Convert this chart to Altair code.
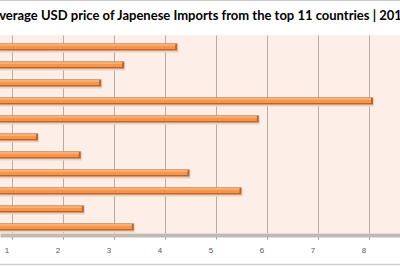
import altair as alt
import pandas as pd

countries = ["China", "United States", "Australia", "Saudi Arabia", "United Arab Emirates",
             "South Korea", "Qatar", "Taiwan", "Thailand", "Indonesia", "Germany"]
prices = [4.17, 3.13, 2.68, 8.01, 5.77, 1.44, 2.28, 4.41, 5.43, 2.34, 3.32]
tick_values = [1, 2, 3, 4, 5, 6, 7, 8]
title_text = "Average USD price of Japenese Imports from the top 11 countries | 2015"

df = pd.DataFrame({"country": countries, "price": prices})

xscale = alt.Scale(domain=[0.657, 8.5], nice=False, zero=False)
yscale = alt.Scale(domain=countries, paddingInner=0, paddingOuter=0)

base = alt.Chart(df)

xaxis = alt.Axis(values=tick_values, grid=True, gridColor="#B5ADA9", gridWidth=1,
                 domainColor="#C2B9B4", domainWidth=4, offset=2,
                 tickColor="#9E9690", tickSize=4, tickOffset=-5,
                 labelOffset=-6, labelPadding=7, labelFontSize=8, labelColor="#595959",
                 labelFont="Liberation Sans", title=None)

shadow = base.mark_bar(size=9, color="#EBCFBD", clip=True, yOffset=4, xOffset=-1).encode(
    x=alt.X("price:Q", scale=xscale, axis=xaxis),
    x2=alt.datum(0),
    y=alt.Y("country:N", scale=yscale, axis=None, sort=countries),
)
edge = base.mark_bar(size=7, color="#B9652B", clip=True, yOffset=3, xOffset=-2).encode(
    x=alt.X("price:Q", scale=xscale), x2=alt.datum(0),
    y=alt.Y("country:N", scale=yscale, sort=countries),
)
body = base.mark_bar(size=5, color="#F7954A", clip=True, yOffset=2.5, xOffset=-4).encode(
    x=alt.X("price:Q", scale=xscale), x2=alt.datum(0),
    y=alt.Y("country:N", scale=yscale, sort=countries),
)
shine = base.mark_bar(size=2, color="#FBAE72", clip=True, yOffset=1, xOffset=-4).encode(
    x=alt.X("price:Q", scale=xscale), x2=alt.datum(0),
    y=alt.Y("country:N", scale=yscale, sort=countries),
)

top_border = alt.Chart(pd.DataFrame({"a": [0]})).mark_rule(color="#C8C8C8", strokeWidth=1).encode(
    x=alt.value(0), x2=alt.value(400), y=alt.value(-34.5))
bottom_border = alt.Chart(pd.DataFrame({"a": [0]})).mark_rule(color="#D0D0D0", strokeWidth=1.5).encode(
    x=alt.value(0), x2=alt.value(400), y=alt.value(229.5))

chart = alt.layer(shadow, edge, body, shine, top_border, bottom_border).properties(
    width=400, height=198,
    title=alt.TitleParams(title_text, anchor="middle", fontSize=13, font="Lato",
                          fontWeight="bold", color="#000000", offset=0, dy=33,
                          baseline="alphabetic"),
    autosize=alt.AutoSizeParams(type="none"),
    padding={"top": 35, "left": 0, "right": 0, "bottom": 33},
    background="white",
).configure_view(fill="#FDEEE7", stroke=None)

chart.save("out.html", embed_options={"renderer": "svg", "actions": False})
